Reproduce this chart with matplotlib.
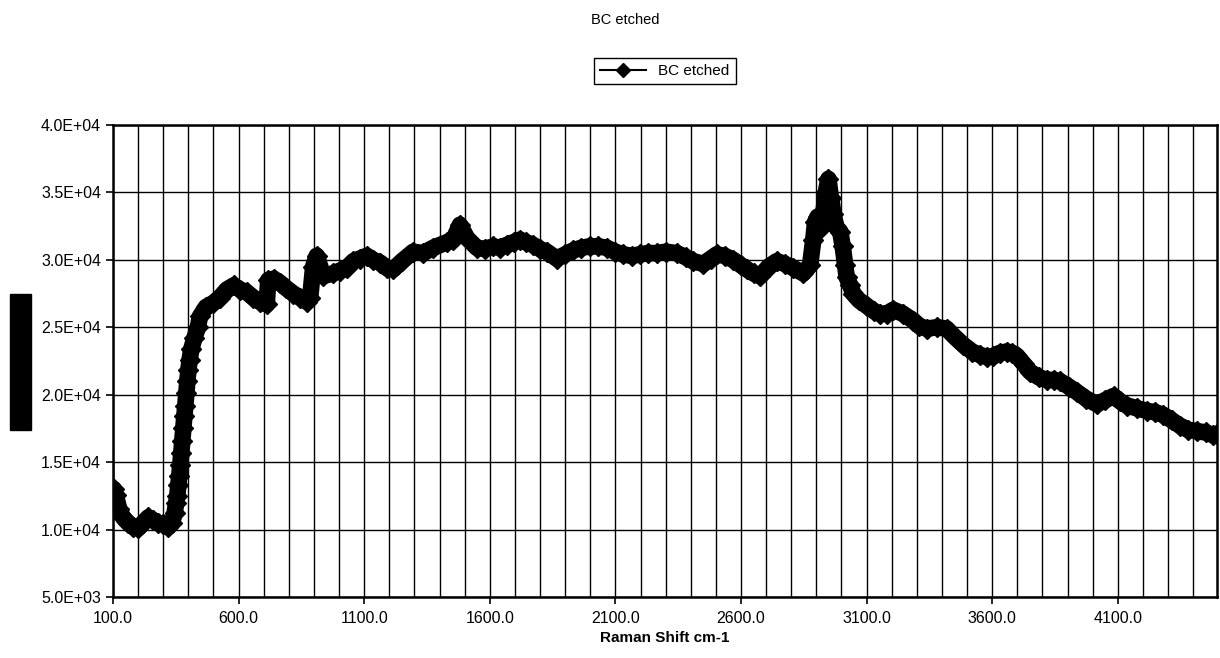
import matplotlib
matplotlib.use("Agg")
import matplotlib.pyplot as plt
from matplotlib.ticker import FuncFormatter
from matplotlib.patches import Rectangle

plt.rcParams['font.family'] = ['Liberation Sans', 'DejaVu Sans']

# Raman spectrum, values
raman_shift = [
    100, 101, 103, 110, 125, 140, 160, 180, 200, 220, 240, 260, 280, 300, 320, 335, 345, 352,
    356, 360, 364, 368, 372, 376, 380, 384, 388, 392, 396, 400, 405, 412, 424, 438,
    446, 470, 499, 525, 553, 580, 606, 632, 659, 685, 712, 718, 740, 765, 790, 818, 845, 871,
    885, 897, 911, 937, 977, 1003, 1030, 1057, 1083, 1110, 1136, 1163, 1190, 1216,
    1250, 1295, 1335, 1375, 1428, 1455, 1481, 1510, 1548, 1580, 1614, 1640, 1667, 1695, 1720,
    1745, 1773, 1800, 1827, 1866, 1900, 1932, 1965, 1999, 2030, 2065, 2100, 2131, 2165, 2198,
    2230, 2264, 2300, 2344, 2380, 2410, 2450, 2480, 2503, 2535, 2569, 2600, 2623, 2650, 2676,
    2710, 2742, 2775, 2808, 2848, 2875, 2888, 2895, 2905, 2915, 2928, 2938, 2948, 2958, 2968,
    2980, 2995, 3005, 3015, 3021, 3035, 3047, 3070, 3100, 3130, 3153, 3180, 3206, 3245, 3286,
    3310, 3339, 3380, 3419, 3450, 3485, 3520, 3551, 3580, 3605, 3630, 3658, 3680, 3698, 3725,
    3751, 3785, 3817, 3845, 3870, 3905, 3937, 3975, 4017, 4050, 4083, 4110, 4136, 4175, 4216,
    4250, 4282, 4315, 4348, 4380, 4414, 4450, 4480, 4494]
intensity = [
    20500, 16500, 13000, 12600, 11500, 10900, 10500, 10200, 10100, 10500, 10900, 10700, 10500,
    10400, 10200, 10500, 11200, 12000,
    12500, 13300, 14000, 14800, 15700, 16600, 17500, 18400, 19200, 20100, 21000, 21800, 22600,
    23400, 24200, 25000,
    25800, 26500, 26800, 27200, 27800, 28100, 27800, 27600, 27200, 26900, 26700, 28500, 28600,
    28300, 27900, 27500, 27200, 26900,
    27200, 29500, 30300, 28800, 29000, 29200, 29400, 29900, 30100, 30300, 30000, 29800, 29400,
    29300,
    29900, 30600, 30500, 30900, 31300, 31500, 32600, 31600, 30900, 30800, 31000, 30900, 31100,
    31300, 31500,
    31300, 31100, 30800, 30600, 30100, 30400, 30700, 30900, 31000, 31000, 30900, 30600, 30400,
    30300, 30400,
    30500, 30500, 30600, 30500, 30200, 29900, 29700, 30100, 30400, 30300, 30000, 29600, 29300,
    29000, 28800,
    29500, 29900, 29700, 29400, 29000, 29600, 31500, 32800, 33200, 32300, 33500, 35000, 36000,
    34600, 33400,
    32400, 32100, 31000, 29600, 28700, 28100, 27500, 27000, 26600, 26200, 26000, 26000, 26300,
    26000, 25500,
    25100, 24900, 25000, 24900, 24300, 23700, 23200, 22950, 22800, 22850, 23100, 23200, 23100,
    22900, 22300,
    21700, 21300, 21100, 21100, 21000, 20600, 20200, 19700, 19300, 19600, 19900, 19500, 19200,
    19000, 18800,
    18700, 18500, 18100, 17700, 17400, 17300, 17200, 17000, 17100]
series_name = "BC etched"

fig = plt.figure(figsize=(12.2, 6.58), dpi=100)
ax = fig.add_axes([113 / 1220, 1 - 597 / 658, (1217 - 113) / 1220, (597 - 125) / 658])

# thin start, then the dense noisy band, then the marker line that goes in the legend
ax.plot(raman_shift[:3], intensity[:3], color='black', lw=1, zorder=3)
ax.plot(raman_shift[2:], intensity[2:], color='black', lw=12,
        solid_joinstyle='round', solid_capstyle='round', zorder=3)
line, = ax.plot(raman_shift[2:], intensity[2:], color='black', lw=1.5, marker='D',
                markersize=10, zorder=4, label=series_name)

ax.set_xlim(100, 4495)
ax.set_ylim(5000, 40000)
ax.set_xticks(range(100, 4495, 500))
ax.set_xticks(range(100, 4495, 100), minor=True)
ax.set_yticks(range(5000, 40001, 5000))
ax.xaxis.set_major_formatter(FuncFormatter(lambda v, p: f"{v:.1f}"))
ax.yaxis.set_major_formatter(FuncFormatter(lambda v, p: f"{v:.1E}"))
ax.grid(which='both', axis='x', color='black', lw=1)
ax.grid(which='major', axis='y', color='black', lw=1)
ax.set_axisbelow(True)
ax.tick_params(axis='both', which='major', direction='out', length=5, width=1.2,
               labelsize=11.5, color='black')
ax.tick_params(axis='x', which='minor', length=0)
ax.tick_params(axis='x', pad=5)
for s in ax.spines.values():
    s.set_linewidth(1.8)
    s.set_color('black')

ax.set_xlabel("Raman Shift cm-1", fontsize=11, fontweight='bold', labelpad=4)

fig.text(625 / 1220, 1 - 20 / 658, "BC etched", ha='center', va='center', fontsize=10.5)
fig.legend(handles=[line], loc='center', bbox_to_anchor=(665 / 1220, 1 - 71 / 658),
           fancybox=False, edgecolor='black', framealpha=1, fontsize=11,
           handlelength=3, borderpad=0.4, markerscale=0.7)

# blacked-out y-axis title
fig.patches.append(Rectangle((10 / 1220, 1 - 430 / 658), 21 / 1220, 136 / 658,
                             transform=fig.transFigure, color='black'))

fig.savefig("out.png", dpi=100)
